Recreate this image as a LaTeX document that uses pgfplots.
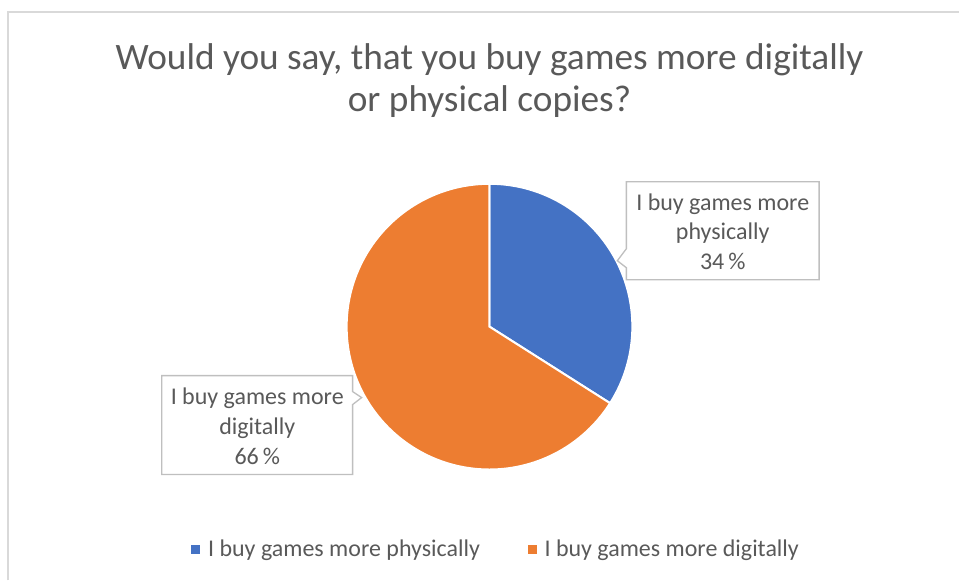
\documentclass[border=0pt]{standalone}
\usepackage{pgfplots}
\pgfplotsset{compat=1.18}
\usepackage{fontspec}
\setmainfont{Carlito}

\definecolor{pieblue}{HTML}{4472C4}
\definecolor{pieorange}{HTML}{ED7D31}
\definecolor{txtgray}{HTML}{595959}
\definecolor{framegray}{HTML}{D9D9D9}
\definecolor{boxgray}{HTML}{BFBFBF}

% shares in percent
\def\physical{34}
\def\digital{66}

\begin{document}
\begin{tikzpicture}
\begin{axis}[
    width=720pt, height=435.75pt,
    scale only axis,
    xmin=0, xmax=960, ymin=0, ymax=581,
    hide axis,
    clip=false,
    legend columns=2,
    legend style={at={(axis cs:497,31)}, anchor=center, draw=none, fill=none,
        font=\fontsize{18}{22}\selectfont\color{txtgray},
        /tikz/every even column/.append style={column sep=34pt},
        inner sep=0pt},
    legend cell align=left,
]
% background and chart frame (kept inside the page)
\path (axis cs:0,0) rectangle (axis cs:960,581);
\draw[framegray, line width=1.5pt] (axis cs:8.5,0) -- (axis cs:8.5,569) -- (axis cs:960,569);

% pie slices: physical clockwise from 12 o'clock, digital the rest
\filldraw[fill=pieblue, draw=white, line width=1.5pt]
    (axis cs:490,254) -- (axis cs:490,397)
    arc[start angle=90, end angle={90-3.6*\physical}, radius=143] -- cycle;
\filldraw[fill=pieorange, draw=white, line width=1.5pt]
    (axis cs:490,254) -- (axis cs:490,397)
    arc[start angle=90, end angle={90+3.6*\digital}, radius=143] -- cycle;

% callouts
\filldraw[fill=white, draw=boxgray, line width=1pt]
    (axis cs:627,399) -- (axis cs:820,399) -- (axis cs:820,301) -- (axis cs:627,301)
    -- (axis cs:627,313) -- (axis cs:618,320) -- (axis cs:627,332) -- cycle;
\node[align=center, text=txtgray, font=\fontsize{18}{22.5}\selectfont, inner sep=0pt]
    at (axis cs:723.5,349) {I buy games more\\physically\\\physical\,\%};

\filldraw[fill=white, draw=boxgray, line width=1pt]
    (axis cs:162,205) -- (axis cs:353,205) -- (axis cs:353,189) -- (axis cs:362,183)
    -- (axis cs:353,176) -- (axis cs:353,106) -- (axis cs:162,106) -- cycle;
\node[align=center, text=txtgray, font=\fontsize{18}{22.5}\selectfont, inner sep=0pt]
    at (axis cs:257.5,154) {I buy games more\\digitally\\\digital\,\%};

% title
\node[align=center, text=txtgray, font=\fontsize{28}{31.5}\selectfont, inner sep=0pt]
    at (axis cs:490,500) {Would you say, that you buy games more digitally\\or physical copies?};

\addlegendimage{legend image code/.code={\fill[pieblue, draw=none] (0pt,-3.4pt) rectangle (6.75pt,3.4pt); \path[draw=none] (0pt,0pt) -- (10.5pt,0pt);}}
\addlegendentry{I buy games more physically}
\addlegendimage{legend image code/.code={\fill[pieorange, draw=none] (0pt,-3.4pt) rectangle (6.75pt,3.4pt); \path[draw=none] (0pt,0pt) -- (10.5pt,0pt);}}
\addlegendentry{I buy games more digitally}
\end{axis}
\end{tikzpicture}
\end{document}
